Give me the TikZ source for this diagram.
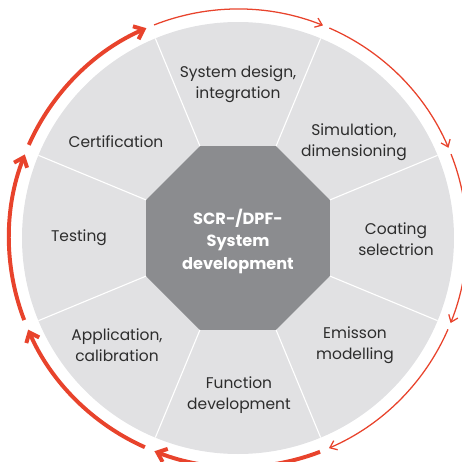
\documentclass[tikz,border=0pt]{standalone}
\usepackage{fontspec}
\setmainfont{Poppins}
\usepackage{tikz}
\usetikzlibrary{arrows.meta}

\definecolor{ringred}{HTML}{E8432C}
\definecolor{wheelgray}{HTML}{E1E1E3}
\definecolor{octgray}{HTML}{8B8C8F}
\definecolor{labeltext}{HTML}{2D2D2D}

\begin{document}
\begin{tikzpicture}[x=0.025cm,y=0.025cm,
	stage/.style={align=center,text=labeltext,font=\fontsize{11}{14.6}\selectfont},
	thinarc/.style={ringred,line width=0.9pt,-{Straight Barb[length=4.5pt,width=7pt]}},
	thickarc/.style={ringred,line width=2.8pt,-{Straight Barb[length=6pt,width=10pt]}}]
\useasboundingbox (-238,-224) rectangle (224,238);
	\fill[wheelgray] (0,0) circle (216);
\fill[octgray] (22.5:99.5) -- (67.5:99.5) -- (112.5:99.5) -- (157.5:99.5) -- (202.5:99.5) -- (247.5:99.5) -- (292.5:99.5) -- (337.5:99.5) -- cycle;
\draw[white,line width=0.8pt] (22.5:99.5) -- (22.5:216);
\draw[white,line width=0.8pt] (67.5:99.5) -- (67.5:216);
\draw[white,line width=0.8pt] (112.5:99.5) -- (112.5:216);
\draw[white,line width=0.8pt] (157.5:99.5) -- (157.5:216);
\draw[white,line width=0.8pt] (202.5:99.5) -- (202.5:216);
\draw[white,line width=0.8pt] (247.5:99.5) -- (247.5:216);
\draw[white,line width=0.8pt] (292.5:99.5) -- (292.5:216);
\draw[white,line width=0.8pt] (337.5:99.5) -- (337.5:216);
\draw[thinarc] (111.5:229) arc[start angle=111.5,end angle=68.2,radius=229];
\draw[thinarc] (66.5:229) arc[start angle=66.5,end angle=23.2,radius=229];
\draw[thinarc] (21.5:229) arc[start angle=21.5,end angle=-21.8,radius=229];
\draw[thinarc] (-23.5:229) arc[start angle=-23.5,end angle=-66.6,radius=229];
\draw[thickarc] (-69:229) arc[start angle=-69,end angle=-111.4,radius=229];
\draw[thickarc] (-114:229) arc[start angle=-114,end angle=-156.4,radius=229];
\draw[thickarc] (-159:229) arc[start angle=-159,end angle=-201.4,radius=229];
\draw[thickarc] (156:229) arc[start angle=156,end angle=113.6,radius=229];
\node[stage] (design) at (0,154) {System design,\\integration};
\node[stage] (sim) at (116,96) {Simulation,\\dimensioning};
\node[stage] (coat) at (158,-1) {Coating\\selectrion};
\node[stage] (emis) at (117,-107) {Emisson\\modelling};
\node[stage] (func) at (1,-157) {Function\\development};
\node[stage] (appl) at (-121,-107) {Application,\\calibration};
\node[stage] (test) at (-159,0) {Testing};
\node[stage] (cert) at (-122,96) {Certification};
\node[align=center,text=white,font=\bfseries\fontsize{11.5}{16}\selectfont] (core) at (0,-3) {SCR-/DPF-\\System\\development};

\end{tikzpicture}
\end{document}
